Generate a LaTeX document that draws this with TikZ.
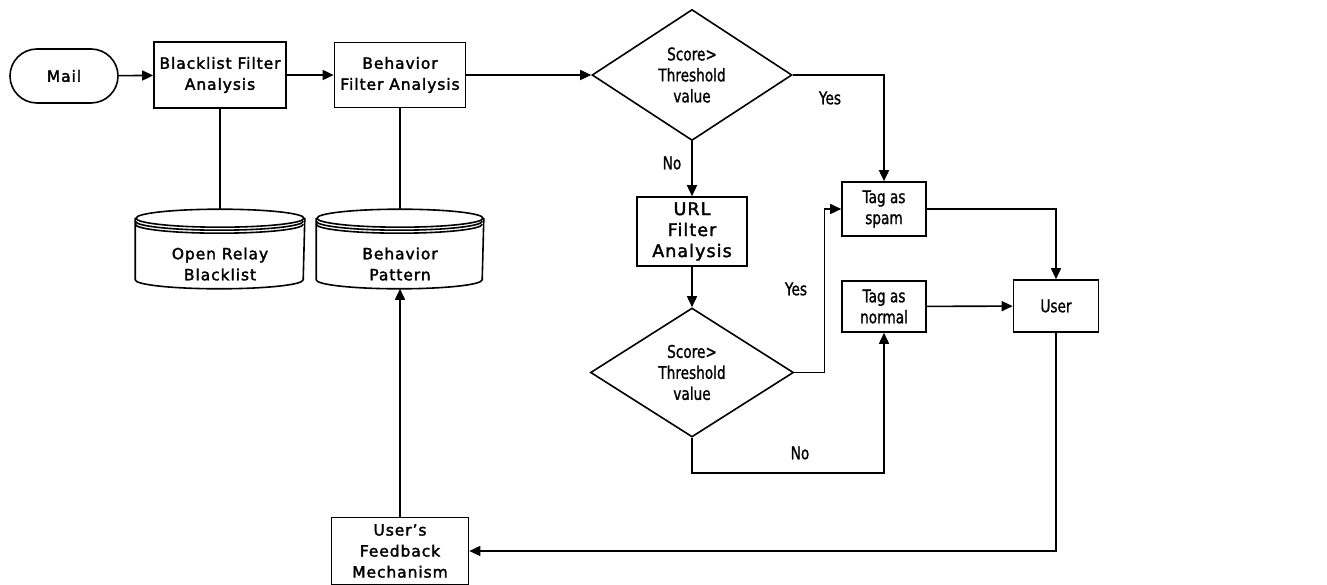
\documentclass[tikz,border=0pt]{standalone}
\usepackage{fontspec}
\setmainfont{DejaVu Sans}
\newfontfamily\lfont[FakeBold=2,LetterSpace=6]{DejaVu Sans}
\newfontfamily\rfont[FakeStretch=0.78,FakeBold=1.2]{DejaVu Sans}
\usetikzlibrary{shapes.geometric,arrows.meta}
\newcommand\dbcyl[2]{%
  \draw ([yshift=-9pt]#1.north) ellipse [x radius=#2, y radius=9pt];
  \draw ([yshift=-9pt]#1.north west) -- ([yshift=9pt]#1.south west)
        arc[start angle=180, end angle=360, x radius=#2, y radius=9pt]
        -- ([yshift=-9pt]#1.north east);
  \draw ([yshift=-12pt]#1.north west) arc[start angle=180, end angle=360, x radius=#2, y radius=9pt];
  \draw ([yshift=-15pt]#1.north west) arc[start angle=180, end angle=360, x radius=#2, y radius=9pt];
}
\begin{document}
\begin{tikzpicture}[x=1pt,y=-1pt,line width=1.6pt,
  box/.style={draw, rectangle, inner sep=0pt, align=center, font=\lfont\fontsize{15.5}{21}\selectfont},
  ubox/.style={box, font=\lfont\fontsize{17.5}{21}\selectfont},
  rbox/.style={box, font=\rfont\fontsize{17.5}{21}\selectfont},
  dec/.style={draw, diamond, aspect=1.5, inner sep=0pt, minimum width=200pt, minimum height=131pt, align=center, font=\rfont\fontsize{17.5}{21}\selectfont},
  dbnode/.style={rectangle, inner sep=0pt, minimum height=78pt},
  lbl/.style={font=\rfont\fontsize{17.5}{21}\selectfont, inner sep=0pt},
  arr/.style={-{Triangle[length=11pt,width=10pt]}}]
\useasboundingbox (0,0) rectangle (1327,585);

\node[box, rounded corners=27pt, minimum width=108pt, minimum height=54pt] (mail) at (64,76) {Mail};
\node[box, minimum width=132pt, minimum height=66pt] (bl) at (220,75) {Blacklist Filter\\Analysis};
\node[box, minimum width=131pt, minimum height=65pt] (bh) at (400,75) {Behavior\\Filter Analysis};
\node[dec] (d1) at (692,75) {Score>\\Threshold\\value};
\node[ubox, minimum width=110pt, minimum height=69pt] (url) at (692,231.5) {URL\\Filter\\Analysis};
\node[dec, minimum width=203pt, minimum height=129pt] (d2) at (692,372.5) {Score>\\Threshold\\value};
\node[rbox, minimum width=84pt, minimum height=54pt] (spam) at (884,209) {Tag as\\spam};
\node[rbox, minimum width=84pt, minimum height=51pt] (norm) at (884,306.5) {Tag as\\normal};
\node[rbox, minimum width=85pt, minimum height=52pt] (user) at (1056,306) {User};
\node[box, minimum width=137pt, minimum height=67pt] (fb) at (400,551) {User’s\\Feedback\\Mechanism};

\node[dbnode, minimum width=168pt] (orb) at (220,249) {};
\node[dbnode, minimum width=166pt] (bp) at (400,249) {};
\dbcyl{orb}{84pt}
\dbcyl{bp}{83pt}
\node[box, draw=none] (orbt) at (220,264) {Open Relay\\Blacklist};
\node[box, draw=none] (bpt) at (400,264) {Behavior\\Pattern};

\draw[arr] (mail) -- (bl);
\draw[arr] (bl) -- (bh);
\draw[arr] (bh.east) -- (d1.west);
\draw[arr] (d1.east) -| (spam.north) node[lbl] at (830,98) {Yes};
\draw[arr] (d1.south) -- (url.north) node[lbl] at (672,163) {No};
\draw[arr] (url.south) -- (d2.north);
\draw[arr] (d2.east) -- ++(30,0) |- (spam.west) node[lbl] at (796,289) {Yes};
\draw[arr] (d2.south) -- ++(0,35) -| (norm.south) node[lbl] at (800,453) {No};
\draw[arr] (spam.east) -| (user.north);
\draw[arr] (norm) -- (user);
\draw[arr] (user.south) |- (fb.east);
\draw[arr] (fb.north) -- (bp.south);
\draw (bl.south) -- (orb.north);
\draw (bh.south) -- (bp.north);
\end{tikzpicture}
\end{document}
